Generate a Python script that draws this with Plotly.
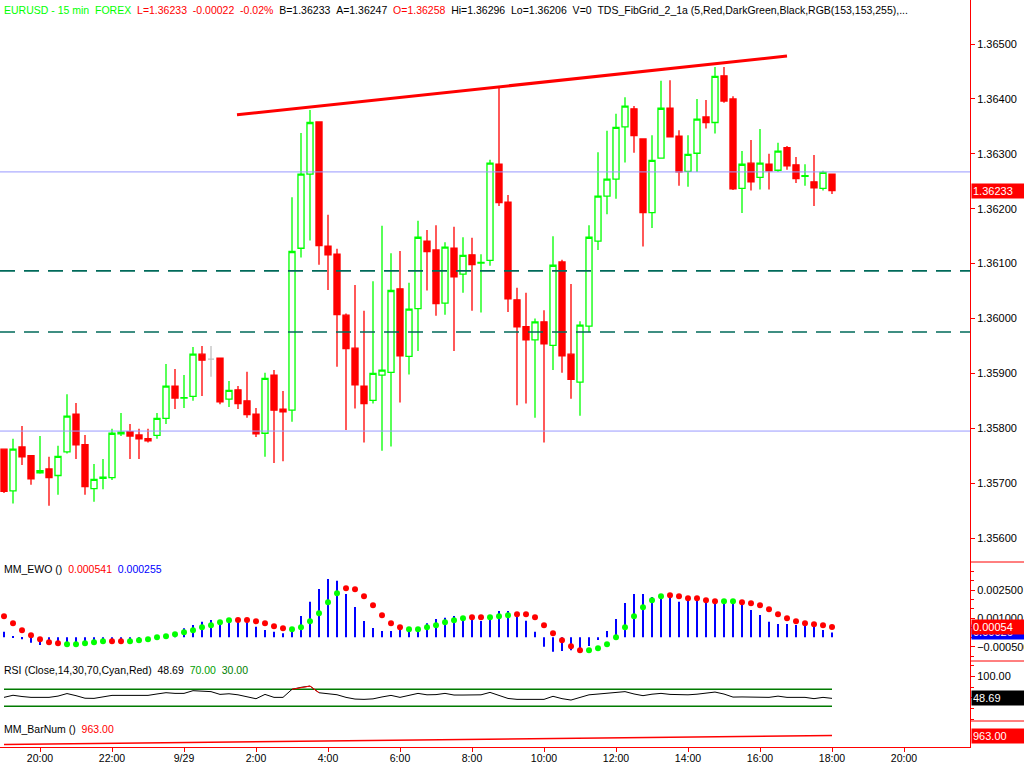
import pandas as pd
import plotly.graph_objects as go

# ---------------- data ----------------
N_BARS = 93
START = "2014-09-28 19:00"
times = pd.date_range(START, periods=N_BARS, freq="15min")

OPEN = [1.35762, 1.35686, 1.35766, 1.35750, 1.35719, 1.35726, 1.35714, 1.35757, 1.35826, 1.35770,
        1.35690, 1.35709, 1.35710, 1.35790, 1.35794, 1.35788, 1.35781, 1.35787, 1.35818, 1.35877,
        1.35855, 1.35858, 1.35935, 1.35926, 1.35928, 1.35853, 1.35870, 1.35850, 1.35826, 1.35791,
        1.35897, 1.35835, 1.35833, 1.36128, 1.36263, 1.36358, 1.36132, 1.36117, 1.36006, 1.35946,
        1.35877, 1.35851, 1.35897, 1.35902, 1.36054, 1.35931, 1.36018, 1.36141, 1.36125, 1.36028,
        1.36128, 1.36081, 1.36116, 1.36101, 1.36106, 1.36281, 1.36212, 1.36034, 1.35985, 1.35961,
        1.35994, 1.35951, 1.36103, 1.35935, 1.35884, 1.35986, 1.36141, 1.36223, 1.36254, 1.36349,
        1.36382, 1.36327, 1.36193, 1.36292, 1.36383, 1.36332, 1.36268, 1.36301, 1.36367, 1.36357,
        1.36442, 1.36400, 1.36237, 1.36283, 1.36257, 1.36281, 1.36270, 1.36311, 1.36280, 1.36259,
        1.36249, 1.36237, 1.36263]
HIGH = [1.35762, 1.35781, 1.35804, 1.35750, 1.35786, 1.35748, 1.35768, 1.35862, 1.35846, 1.35788,
        1.35735, 1.35744, 1.35799, 1.35828, 1.35808, 1.35799, 1.35799, 1.35828, 1.35917, 1.35908,
        1.35897, 1.35948, 1.35950, 1.35950, 1.35928, 1.35886, 1.35877, 1.35903, 1.35837, 1.35901,
        1.35906, 1.35868, 1.36221, 1.36338, 1.36380, 1.36358, 1.36189, 1.36127, 1.36009, 1.36061,
        1.36014, 1.36068, 1.36169, 1.36119, 1.36123, 1.36065, 1.36178, 1.36161, 1.36170, 1.36139,
        1.36167, 1.36148, 1.36147, 1.36117, 1.36289, 1.36422, 1.36225, 1.36056, 1.36047, 1.36000,
        1.36015, 1.36150, 1.36107, 1.36063, 1.35995, 1.36170, 1.36303, 1.36342, 1.36373, 1.36403,
        1.36387, 1.36327, 1.36334, 1.36433, 1.36434, 1.36343, 1.36334, 1.36400, 1.36398, 1.36458,
        1.36458, 1.36405, 1.36305, 1.36325, 1.36345, 1.36300, 1.36320, 1.36314, 1.36294, 1.36281,
        1.36298, 1.36269, 1.36263]
LOW = [1.35682, 1.35663, 1.35733, 1.35697, 1.35717, 1.35659, 1.35679, 1.35754, 1.35744, 1.35679,
       1.35666, 1.35689, 1.35706, 1.35786, 1.35744, 1.35744, 1.35774, 1.35781, 1.35808, 1.35835,
       1.35837, 1.35850, 1.35859, 1.35894, 1.35844, 1.35839, 1.35835, 1.35819, 1.35784, 1.35748,
       1.35737, 1.35740, 1.35812, 1.36111, 1.36142, 1.36098, 1.36052, 1.35912, 1.35797, 1.35836,
       1.35774, 1.35845, 1.35759, 1.35767, 1.35847, 1.35898, 1.35941, 1.36051, 1.36005, 1.36007,
       1.35941, 1.36047, 1.36014, 1.36011, 1.36096, 1.36205, 1.36012, 1.35842, 1.35845, 1.35819,
       1.35774, 1.35906, 1.35901, 1.35854, 1.35823, 1.35975, 1.36125, 1.36190, 1.36218, 1.36284,
       1.36302, 1.36131, 1.36165, 1.36292, 1.36331, 1.36242, 1.36240, 1.36267, 1.36346, 1.36337,
       1.36393, 1.36234, 1.36192, 1.36233, 1.36235, 1.36235, 1.36267, 1.36271, 1.36247, 1.36242,
       1.36205, 1.36233, 1.36227]
CLOSE = [1.35685, 1.35762, 1.35748, 1.35708, 1.35723, 1.35710, 1.35749, 1.35822, 1.35770, 1.35694,
         1.35707, 1.35711, 1.35791, 1.35793, 1.35786, 1.35781, 1.35777, 1.35818, 1.35877, 1.35855,
         1.35856, 1.35935, 1.35924, 1.35926, 1.35848, 1.35869, 1.35845, 1.35825, 1.35790, 1.35891,
         1.35833, 1.35830, 1.36122, 1.36263, 1.36357, 1.36133, 1.36116, 1.36007, 1.35945, 1.35879,
         1.35845, 1.35900, 1.35906, 1.36051, 1.35932, 1.36017, 1.36148, 1.36122, 1.36027, 1.36130,
         1.36076, 1.36115, 1.36098, 1.36102, 1.36283, 1.36211, 1.36036, 1.35985, 1.35961, 1.35994,
         1.35954, 1.36097, 1.35932, 1.35889, 1.35988, 1.36148, 1.36223, 1.36254, 1.36348, 1.36387,
         1.36333, 1.36193, 1.36288, 1.36383, 1.36331, 1.36267, 1.36299, 1.36363, 1.36357, 1.36441,
         1.36396, 1.36236, 1.36281, 1.36249, 1.36283, 1.36269, 1.36305, 1.36278, 1.36255, 1.36260,
         1.36238, 1.36266, 1.36233]

EWO_HIST = [0.000299, 0.000017, -0.000100, -0.000282, -0.000405, -0.000405, -0.000405, -0.000405, -0.000370, -0.000350,
            -0.000330, -0.000300, -0.000300, -0.000280, -0.000260, -0.000240, -0.000200, -0.000100, 0.000050, 0.000247,
            0.000476, 0.000652, 0.000828, 0.000917, 0.000917, 0.001005, 0.001005, 0.000917, 0.000564, 0.000388,
            0.000299, 0.000212, 0.000299, 0.001128, 0.001884, 0.002557, 0.003085, 0.002995, 0.002293, 0.001603,
            0.000862, 0.000492, 0.000333, 0.000333, 0.000388, 0.000388, 0.000360, 0.000741, 0.000970, 0.001040,
            0.001128, 0.000917, 0.001005, 0.000862, 0.001005, 0.001393, 0.001393, 0.001181, 0.000881, 0.000299,
            -0.000494, -0.000758, -0.000723, -0.000688, -0.000688, -0.000459, -0.000141, 0.000333, 0.000970, 0.001816,
            0.002293, 0.002293, 0.002134, 0.002169, 0.002275, 0.001884, 0.002116, 0.002063, 0.001884, 0.001799,
            0.001904, 0.001884, 0.001852, 0.001446, 0.001181, 0.000826, 0.000705, 0.000705, 0.000652, 0.000617,
            0.000564, 0.000388, 0.000255]
EWO_DOT = [0.001111, 0.000741, 0.000370, 0.000106, -0.000106, -0.000265, -0.000317, -0.000370, -0.000370, -0.000317,
           -0.000265, -0.000212, -0.000212, -0.000212, -0.000212, -0.000159, -0.000106, 0.000000, 0.000053, 0.000159,
           0.000265, 0.000370, 0.000529, 0.000635, 0.000794, 0.000899, 0.000915, 0.000915, 0.000846, 0.000741,
           0.000582, 0.000476, 0.000423, 0.000529, 0.000846, 0.001270, 0.001852, 0.002328, 0.002592, 0.002539,
           0.002169, 0.001693, 0.001164, 0.000741, 0.000529, 0.000423, 0.000423, 0.000529, 0.000635, 0.000794,
           0.000899, 0.001005, 0.001058, 0.001058, 0.001058, 0.001111, 0.001164, 0.001217, 0.001217, 0.001058,
           0.000635, 0.000212, -0.000159, -0.000476, -0.000688, -0.000688, -0.000582, -0.000370, 0.000000, 0.000529,
           0.001111, 0.001587, 0.001957, 0.002169, 0.002222, 0.002169, 0.002063, 0.002063, 0.001957, 0.001904,
           0.001904, 0.001904, 0.001852, 0.001799, 0.001693, 0.001481, 0.001217, 0.001005, 0.000846, 0.000741,
           0.000688, 0.000635, 0.000541]
# r = falling (red), g = rising (green) state of the EWO signal dots
EWO_DOT_STATE = ("rrrrrrrggg" "ggrrgggggg" "ggggggrrrr" "rrggggggrr" "rrrrrggggg"
                 "ggrrgggrrr" "rrrrrggggg" "ggggrrrrrr" "ggrrrrrrrr" "rrr")

RSI = [51, 56, 53, 51, 51, 51, 54, 60, 55, 49,
       48.6, 52, 55.7, 55.7, 55.7, 55.7, 55.7, 59, 62, 60.4,
       60.4, 66.7, 65, 64.5, 58, 59.5, 57, 52, 47.8, 58,
       51, 51, 70, 74.6, 77.6, 61.9, 60.4, 57.2, 51, 47,
       46.3, 47.5, 52, 55.7, 51, 55, 60.4, 57, 57.5, 60.4,
       56.5, 56.5, 56.5, 57, 62.7, 56.5, 48.5, 46.3, 46.3, 46.5,
       46.3, 53.5, 48, 44.7, 50, 57, 58.8, 60.5, 62.7, 64.5,
       59, 55, 58.5, 60.4, 58, 57, 57, 58.5, 60.5, 63.5,
       58.8, 51.7, 52, 51.7, 52, 51, 53.9, 51, 51, 51,
       48, 51, 48.69]
RSI_OB, RSI_OS = 70, 30

BARNUM_LAST = 963  # MM_BarNum: bar counter of the last bar
bar_num = [BARNUM_LAST - (N_BARS - 1 - i) for i in range(N_BARS)]

FIB_LOW, FIB_HIGH = 1.35795, 1.36267
FIB_RATIOS = [0.382, 0.618]
TREND_T = ["2014-09-29 01:28:20", "2014-09-29 16:45"]
TREND_P = [1.36371, 1.36478]

TICK_VALS = pd.date_range("2014-09-28 20:00", "2014-09-29 20:00", freq="2h")
TICK_TEXT = ["20:00", "22:00", "9/29", "2:00", "4:00", "6:00", "8:00", "10:00",
             "12:00", "14:00", "16:00", "18:00", "20:00"]

LAST_PRICE = 1.36233
EWO_LAST_DOT, EWO_LAST_HIST = 0.000541, 0.000255
RSI_LAST = 48.69

# ---------------- style ----------------
RED = "#FF0000"
LIME = "#00FF00"
BLUE = "#0000FF"
FIBBLUE = "rgb(153,153,255)"
DKGREEN = "#006A5A"
FONT = "Liberation Sans, Arial, sans-serif"
W, H = 1024, 768
ML, MR, MT, MB = 0, 54, 0, 21
PH = H - MT - MB  # plot height in px
PW = W - ML - MR


def py(pix):
    return (PH - (pix - MT)) / PH


D_PRICE = [py(562), 1.0]
D_EWO = [py(661), py(562)]
D_RSI = [py(721), py(661)]
D_BAR = [0.0, py(721)]

fig = go.Figure()

# candles
up_dn = [i for i in range(N_BARS) if OPEN[i] != CLOSE[i]]
flat = [i for i in range(N_BARS) if OPEN[i] == CLOSE[i]]
fig.add_trace(go.Candlestick(
    x=[times[i] for i in up_dn], open=[OPEN[i] for i in up_dn], high=[HIGH[i] for i in up_dn],
    low=[LOW[i] for i in up_dn], close=[CLOSE[i] for i in up_dn],
    increasing=dict(line=dict(color=LIME, width=1.3), fillcolor="white"),
    decreasing=dict(line=dict(color=RED, width=1.3), fillcolor=RED),
    xaxis="x", yaxis="y", hoverinfo="skip"))
fig.add_trace(go.Candlestick(
    x=[times[i] for i in flat], open=[OPEN[i] for i in flat], high=[HIGH[i] for i in flat],
    low=[LOW[i] for i in flat], close=[CLOSE[i] for i in flat],
    increasing=dict(line=dict(color="#C0C0C0", width=1.3), fillcolor="#C0C0C0"),
    decreasing=dict(line=dict(color="#C0C0C0", width=1.3), fillcolor="#C0C0C0"),
    xaxis="x", yaxis="y", hoverinfo="skip"))

# EWO
fig.add_trace(go.Bar(x=times, y=EWO_HIST, width=170000, marker=dict(color=BLUE, line=dict(width=0)),
                     xaxis="x", yaxis="y2", hoverinfo="skip"))
dot_colors = [RED if s == "r" else LIME for s in EWO_DOT_STATE]
fig.add_trace(go.Scatter(x=times, y=EWO_DOT, mode="markers",
                         marker=dict(color=dot_colors, size=6, line=dict(width=0)),
                         xaxis="x", yaxis="y2", hoverinfo="skip"))

# RSI
fig.add_trace(go.Scatter(x=times, y=[RSI_OB] * N_BARS, mode="lines", line=dict(color="#007A00", width=1.5),
                         xaxis="x", yaxis="y3", hoverinfo="skip"))
fig.add_trace(go.Scatter(x=times, y=[RSI_OS] * N_BARS, mode="lines", line=dict(color="#007A00", width=1.5),
                         xaxis="x", yaxis="y3", hoverinfo="skip"))
fig.add_trace(go.Scatter(x=times, y=RSI, mode="lines", line=dict(color="black", width=1),
                         xaxis="x", yaxis="y3", hoverinfo="skip"))
rsi_red = []
for i, v in enumerate(RSI):
    near = [RSI[j] for j in (i - 1, i, i + 1) if 0 <= j < N_BARS]
    rsi_red.append(v if max(near) > RSI_OB else None)
fig.add_trace(go.Scatter(x=times, y=rsi_red, mode="lines", line=dict(color=RED, width=1),
                         xaxis="x", yaxis="y3", hoverinfo="skip", connectgaps=False))

# BarNum
fig.add_trace(go.Scatter(x=times, y=bar_num, mode="lines", line=dict(color=RED, width=1.5),
                         xaxis="x", yaxis="y4", hoverinfo="skip"))

# ---------------- axes ----------------
t0 = pd.Timestamp(START)
x0 = t0 - pd.Timedelta(minutes=15 * 4 / 9)
x1 = t0 + pd.Timedelta(minutes=15 * (PW - 4) / 9)

yax = dict(side="right", anchor="x", showgrid=False, zeroline=False, showline=True,
           linecolor=RED, linewidth=1, ticks="outside", ticklen=4, tickcolor=RED, automargin=False,
           tickfont=dict(family=FONT, size=11, color="black"), fixedrange=True)

price_top = 1.365 + 44 / 54900
price_bot = 1.365 - (562 - 44) / 54900
ewo_top = (637.3 - 562) / 18900
ewo_bot = (637.3 - 661) / 18900
rsi_top = (719.05 - 661) / 0.425
rsi_bot = (719.05 - 721) / 0.425
bar_top = BARNUM_LAST + (735.5 - 721) * 10.2
bar_bot = BARNUM_LAST - (747 - 735.5) * 10.2

fig.update_layout(
    width=W, height=H, margin=dict(l=ML, r=MR, t=MT, b=MB, autoexpand=False),
    paper_bgcolor="white", plot_bgcolor="white", showlegend=False,
    boxgap=0.18, boxgroupgap=0.18,
    xaxis=dict(range=[x0, x1], anchor="y4", domain=[0, 1], showgrid=False, zeroline=False,
               showline=True, linecolor=RED, linewidth=1, ticks="outside", ticklen=4, tickcolor=RED,
               tickvals=TICK_VALS, ticktext=TICK_TEXT, tickangle=0, automargin=False,
               ticklabelstandoff=-3,
               tickfont=dict(family=FONT, size=10.5, color="black"),
               rangeslider=dict(visible=False), fixedrange=True),
    yaxis=dict(yax, domain=D_PRICE, range=[price_bot, price_top], tickmode="linear",
               tick0=1.356, dtick=0.001, tickformat=".5f"),
    yaxis2=dict(yax, domain=D_EWO, range=[ewo_bot, ewo_top], tickmode="linear",
                tick0=-0.0005, dtick=0.0015, tickformat=".6f",
                minor=dict(ticks="outside", ticklen=3, tickcolor=RED, tick0=0, dtick=0.0005)),
    yaxis3=dict(yax, domain=D_RSI, range=[rsi_bot, rsi_top], tickmode="linear",
                tick0=100, dtick=200, tickformat=".2f",
                minor=dict(ticks="outside", ticklen=3, tickcolor=RED, tick0=0, dtick=25)),
    yaxis4=dict(yax, domain=D_BAR, range=[bar_bot, bar_top], showticklabels=False, ticks=""),
    font=dict(family=FONT, size=11, color="black"),
)

# ---------------- drawings ----------------
shapes = []
for p in (FIB_LOW, FIB_HIGH):
    shapes.append(dict(type="line", xref="paper", yref="y", x0=0, x1=1, y0=p, y1=p,
                       line=dict(color=FIBBLUE, width=1)))
for r in FIB_RATIOS:
    p = FIB_LOW + r * (FIB_HIGH - FIB_LOW)
    shapes.append(dict(type="line", xref="paper", yref="y", x0=0, x1=1, y0=p, y1=p,
                       line=dict(color=DKGREEN, width=1.6, dash="15px,9px")))
shapes.append(dict(type="line", xref="x", yref="y", x0=TREND_T[0], x1=TREND_T[1],
                   y0=TREND_P[0], y1=TREND_P[1], line=dict(color=RED, width=3)))
# panel separators in the scale area
for pix in (562, 661, 721):
    shapes.append(dict(type="line", xref="paper", yref="paper", x0=1, x1=W / PW, y0=py(pix), y1=py(pix),
                       line=dict(color=RED, width=1)))
fig.update_layout(shapes=shapes)

NB = "\u00a0"


def seg(text, color):
    return '<span style="color:%s">%s</span>' % (color, text.replace(" ", NB))


header = (NB * 2).join([
    seg("EURUSD - 15 min  FOREX", LIME),
    seg("L=1.36233  -0.00022  -0.02%", RED),
    seg("B=1.36233  A=1.36247", "black"),
    seg("O=1.36258", RED),
    seg("Hi=1.36296  Lo=1.36206  V=0  TDS_FibGrid_2_1a (5,Red,DarkGreen,Black,RGB(153,153,255),...", "black"),
])
ewo_lbl = (NB * 2).join([seg("MM_EWO ()", "black"), seg("%.6f" % EWO_LAST_DOT, RED),
                         seg("%.6f" % EWO_LAST_HIST, BLUE)])
rsi_lbl = (NB * 2).join([seg("RSI (Close,14,30,70,Cyan,Red)", "black"), seg("%.2f" % RSI_LAST, "black"),
                         seg("%.2f" % RSI_OB, "#00A000"), seg("%.2f" % RSI_OS, "#008000")])
bar_lbl = (NB * 2).join([seg("MM_BarNum ()", "black"), seg("%.2f" % BARNUM_LAST, RED)])

anns = []
for txt, pix, size in ((header, 10, 10.5), (ewo_lbl, 569, 10.5), (rsi_lbl, 670, 10.5), (bar_lbl, 729, 10.5)):
    anns.append(dict(text=txt, xref="paper", yref="paper", x=0, y=py(pix), xanchor="left",
                     yanchor="middle", xshift=2, showarrow=False, font=dict(family=FONT, size=size)))

# value boxes on the scale
for txt, yref, yv, bg in (("1.36233", "y", LAST_PRICE, RED),
                          ("%.5f" % EWO_LAST_HIST, "y2", EWO_LAST_HIST, BLUE),
                          ("%.5f" % EWO_LAST_DOT, "y2", EWO_LAST_DOT, RED),
                          ("%.2f" % RSI_LAST, "y3", RSI_LAST, "black"),
                          ("%.2f" % BARNUM_LAST, "y4", BARNUM_LAST, RED)):
    anns.append(dict(text=txt, xref="paper", yref=yref, x=1, y=yv, xanchor="left", yanchor="middle",
                     xshift=1, showarrow=False, bgcolor=bg, width=50, height=12, borderpad=1,
                     align="left", font=dict(family=FONT, size=11, color="white")))
fig.update_layout(annotations=anns)

fig.write_html("out.html", config={"displayModeBar": False},
               post_script="document.body.style.margin='0';")
